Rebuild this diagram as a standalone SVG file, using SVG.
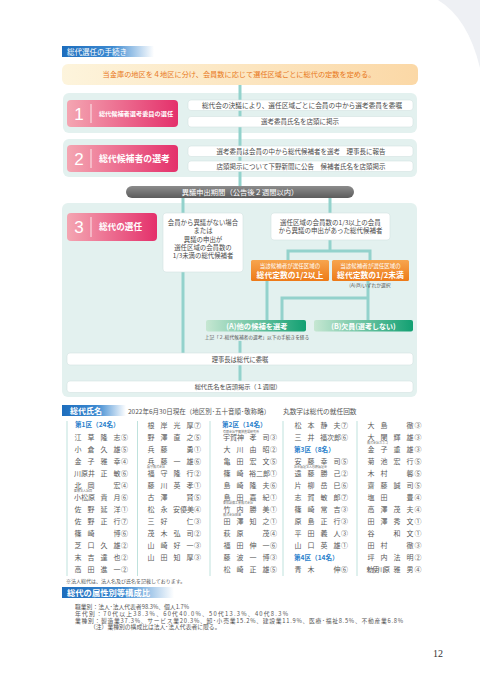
<svg xmlns="http://www.w3.org/2000/svg" width="480" height="679" viewBox="0 0 480 679">
<defs>
<linearGradient id="gBlue" x1="0" x2="1" y1="0" y2="0"><stop offset="0" stop-color="#1d6dbd"/><stop offset="0.55" stop-color="#3d8ad1"/><stop offset="1" stop-color="#ffffff"/></linearGradient>
<linearGradient id="gBanner" x1="0" x2="1" y1="0" y2="0"><stop offset="0" stop-color="#fdf4dc"/><stop offset="1" stop-color="#fbd8a6"/></linearGradient>
<linearGradient id="gPink" x1="0" x2="1" y1="0" y2="0"><stop offset="0" stop-color="#f4a6b2"/><stop offset="1" stop-color="#e4306b"/></linearGradient>
<linearGradient id="gGrey" x1="0" x2="0" y1="0" y2="1"><stop offset="0" stop-color="#8c8c8c"/><stop offset="1" stop-color="#5c5c5c"/></linearGradient>
<linearGradient id="gOrange" x1="0" x2="0" y1="0" y2="1"><stop offset="0" stop-color="#f7a54e"/><stop offset="1" stop-color="#ed7a18"/></linearGradient>
<linearGradient id="gGreen" x1="0" x2="1" y1="0" y2="0"><stop offset="0" stop-color="#c6e7d2"/><stop offset="1" stop-color="#12a072"/></linearGradient>
<style>
text{font-family:"Noto Sans CJK JP","Noto Sans",sans-serif}
.panel{fill:#e3f1ef}
.wb{fill:#ffffff;stroke:#d3e3e0;stroke-width:0.6}
.t{fill:#4a4a4a;font-size:6.5px;text-anchor:middle}
.w{fill:#ffffff;text-anchor:middle;font-weight:bold}
.num{fill:#ffffff;font-size:17px;text-anchor:middle;font-family:"Liberation Sans",sans-serif}
.div{stroke:#ffffff;stroke-width:0.8}
.con{stroke:#93d2cc;stroke-width:3;fill:none}
.n{fill:#5a5a5a;font-size:7px;text-anchor:middle}
.lb{fill:#6a6a6a;font-size:3px}
.ku{fill:#2b7fcc;font-size:6.6px;font-weight:bold}
.cd{stroke:#bfe2dd;stroke-width:1}
.hd{fill:#ffffff;font-weight:bold}
.at{fill:#555555;font-size:5.8px}
</style>
</defs>
<rect x="0" y="0" width="480" height="679" fill="#ffffff"/>
<path d="M438 0 Q468 18 480 68 L480 0 Z" fill="#eef0f4"/>

<g id="title-procedure">
<rect x="62" y="46" width="92" height="11" fill="url(#gBlue)"/>
<text x="67" y="54.5" class="hd" style="font-size:7.5px;font-weight:normal">総代選任の手続き</text>
</g>

<g id="banner">
<rect x="62" y="64" width="356" height="21" rx="6" fill="url(#gBanner)"/>
<text x="239" y="77" style="fill:#e8771a;font-size:7.2px;text-anchor:middle">当金庫の地区を４地区に分け、会員数に応じて選任区域ごとに総代の定数を定める。</text>
</g>

<g id="panels">
<rect x="63" y="93" width="354" height="40" rx="6" class="panel"/>
<rect x="63" y="139" width="354" height="38" rx="6" class="panel"/>
<rect x="62" y="203" width="355" height="194" rx="6" class="panel"/>
</g>

<g id="connectors">
<line x1="240" y1="85" x2="240" y2="186" class="con"/>
<line x1="183" y1="198" x2="183" y2="213" class="con"/>
<line x1="330" y1="198" x2="330" y2="213" class="con"/>
<line x1="183" y1="272" x2="183" y2="353" class="con"/>
<polyline points="330,240 330,251" class="con"/>
<polyline points="288,260 288,251 370,251 370,260" class="con"/>
<line x1="267" y1="281" x2="267" y2="320" class="con"/>
<line x1="368" y1="281" x2="368" y2="320" class="con"/>
<polyline points="368,298 282,298 282,320" class="con"/>
<line x1="240" y1="341" x2="240" y2="382" class="con"/>
</g>

<g id="step1">
<rect x="67" y="100" width="111" height="27" rx="4" fill="url(#gPink)"/>
<text x="79" y="120" class="num">1</text>
<line x1="91" y1="104" x2="91" y2="123" class="div"/>
<text x="136" y="116" class="w" style="font-size:6.2px">総代候補者選考委員の選任</text>
</g>
<g id="step1-a">
<rect x="188" y="100" width="225" height="10.5" rx="3" class="wb"/>
<text x="302" y="107.5" class="t" style="font-size:6.7px">総代会の決議により、選任区域ごとに会員の中から選考委員を委嘱</text>
</g>
<g id="step1-b">
<rect x="188" y="116.5" width="225" height="10.5" rx="3" class="wb"/>
<text x="300" y="124" class="t">選考委員氏名を店頭に掲示</text>
</g>

<g id="step2">
<rect x="67" y="145" width="111" height="27" rx="4" fill="url(#gPink)"/>
<text x="79" y="165" class="num">2</text>
<line x1="91" y1="149" x2="91" y2="168" class="div"/>
<text x="134.5" y="161.5" class="w" style="font-size:8.9px">総代候補者の選考</text>
</g>
<g id="step2-a">
<rect x="188" y="146" width="225" height="10.5" rx="3" class="wb"/>
<text x="301" y="153.5" class="t">選考委員は会員の中から総代候補者を選考　理事長に報告</text>
</g>
<g id="step2-b">
<rect x="188" y="161" width="225" height="10.5" rx="3" class="wb"/>
<text x="301" y="168.5" class="t">店頭掲示について下野新聞に公告　候補者氏名を店頭掲示</text>
</g>

<g id="objection-period">
<rect x="126" y="186" width="228" height="12" rx="6" fill="url(#gGrey)"/>
<text x="240" y="194.5" style="fill:#ffffff;font-size:7.3px;text-anchor:middle">異議申出期間（公告後２週間以内）</text>
</g>

<g id="step3">
<rect x="67" y="213" width="90" height="28" rx="4" fill="url(#gPink)"/>
<text x="79" y="233" class="num">3</text>
<line x1="91" y1="217" x2="91" y2="237" class="div"/>
<text x="120.5" y="230" class="w" style="font-size:8.6px">総代の選任</text>
</g>

<g id="case-no-objection">
<rect x="163" y="213" width="80" height="59" rx="3" class="wb"/>
<text class="t" style="font-size:6.4px" x="203" y="225">会員から異議がない場合</text>
<text class="t" style="font-size:6.4px" x="203" y="233.3">または</text>
<text class="t" style="font-size:6.4px" x="203" y="241.6">異議の申出が</text>
<text class="t" style="font-size:6.4px" x="203" y="250">選任区域の会員数の</text>
<text class="t" style="font-size:6.4px" x="203" y="258.3">1/3未満の総代候補者</text>
</g>

<g id="case-objection">
<rect x="271" y="213" width="119" height="27" rx="3" class="wb"/>
<text class="t" style="font-size:6.5px" x="330.5" y="225">選任区域の会員数の1/3以上の会員</text>
<text class="t" style="font-size:6.5px" x="330.5" y="233.3">から異議の申出があった総代候補者</text>
</g>

<g id="half-or-more">
<rect x="251" y="260" width="78" height="21" rx="1.5" fill="url(#gOrange)"/>
<text x="290" y="267.5" style="fill:#ffffff;font-size:5.5px;text-anchor:middle">当該候補者が選任区域の</text>
<text x="290" y="277.5" class="w" style="font-size:7.8px">総代定数の1/2以上</text>
</g>
<g id="less-than-half">
<rect x="332" y="260" width="77" height="21" rx="1.5" fill="url(#gOrange)"/>
<text x="370.5" y="267.5" style="fill:#ffffff;font-size:5.5px;text-anchor:middle">当該候補者が選任区域の</text>
<text x="370.5" y="277.5" class="w" style="font-size:7.8px">総代定数の1/2未満</text>
</g>
<text x="370" y="287" style="fill:#555555;font-size:4.8px;text-anchor:middle">(A)(B)いずれか選択</text>

<g id="option-a">
<rect x="206" y="320" width="100" height="11.5" rx="2" fill="url(#gGreen)"/>
<text x="257" y="328.5" class="w" style="font-size:7.3px">(A)他の候補を選考</text>
</g>
<text x="257" y="339" style="fill:#555555;font-size:4.7px;text-anchor:middle">上記「２.総代候補者の選考」以下の手続きを経る</text>
<g id="option-b">
<rect x="314" y="320" width="99" height="11.5" rx="2" fill="url(#gGreen)"/>
<text x="363.5" y="328.5" class="w" style="font-size:7px">(B)欠員(選考しない)</text>
</g>

<g id="commission">
<rect x="67" y="353" width="346" height="12" rx="3" class="wb"/>
<text x="240" y="361.5" class="t" style="font-size:6.3px">理事長は総代に委嘱</text>
</g>
<g id="post-names">
<rect x="67" y="381" width="346" height="11.5" rx="3" class="wb"/>
<text x="238" y="389.3" class="t" style="font-size:6.2px">総代氏名を店頭掲示（１週間）</text>
</g>

<g id="title-names">
<rect x="62" y="405" width="64" height="11" fill="url(#gBlue)"/>
<text x="70" y="414" class="hd" style="font-size:8px">総代氏名</text>
<text x="128" y="413.5" style="fill:#555555;font-size:6.5px">2022年6月30日現在（地区別･五十音順･敬称略）</text>
<text x="283" y="413.5" style="fill:#555555;font-size:6.7px">丸数字は総代の就任回数</text>
</g>

<g id="name-list">
<line x1="67" y1="421" x2="67" y2="576" class="cd"/>
<line x1="137.5" y1="421" x2="137.5" y2="576" class="cd"/>
<line x1="210" y1="421" x2="210" y2="576" class="cd"/>
<line x1="283" y1="421" x2="283" y2="576" class="cd"/>
<line x1="357" y1="421" x2="357" y2="576" class="cd"/>

<text x="75" y="427" class="ku">第1区（24名）</text>
<text class="n" x="78 91 104 117 124.5" y="439.5">江草隆志⑤</text>
<text class="n" x="78 91 104 117 124.5" y="451.5">小倉久雄⑤</text>
<text class="n" x="78 91 104 117 124.5" y="463.5">金子雅幸④</text>
<text class="n" x="77.5 84.5 91.5 104 117 124.5" y="475.5">川原井正敏⑥</text>
<text class="n" x="78 91 117 124.5" y="487.5">北岡宏④</text>
<text class="lb" x="74" y="491.6">医療法人社団</text>
<text class="n" x="77.5 84.5 91.5 104 117 124.5" y="499.5">小松原貴月⑥</text>
<text class="n" x="78 91 104 117 124.5" y="511.5">佐野延洋①</text>
<text class="n" x="78 91 104 117 124.5" y="523.5">佐野正行⑦</text>
<text class="n" x="78 91 117 124.5" y="535.5">篠崎博⑥</text>
<text class="n" x="78 91 104 117 124.5" y="547.5">芝口久雄②</text>
<text class="n" x="78 91 104 117 124.5" y="559.5">末吉達也②</text>
<text class="n" x="78 91 104 117 124.5" y="571.5">高田進一②</text>

<text class="n" x="151 164 177 190 197.5" y="427.5">根岸光厚⑦</text>
<text class="n" x="151 164 177 190 197.5" y="439.5">野澤直之⑤</text>
<text class="n" x="151 164 190 197.5" y="451.5">兵藤勇①</text>
<text class="n" x="151 164 177 190 197.5" y="463.5">兵藤一雄⑥</text>
<text class="lb" x="147" y="467.6">福守株式会社</text>
<text class="n" x="151 164 177 190 197.5" y="475.5">福守隆行②</text>
<text class="n" x="151 164 177 190 197.5" y="487.5">藤川英孝①</text>
<text class="n" x="151 164 190 197.5" y="499.5">古澤賢⑤</text>
<text class="n" x="151 164 176.5 183.5 190.5 197.5" y="511.5">松永安優美④</text>
<text class="n" x="151 164 190 197.5" y="523.5">三好仁③</text>
<text class="n" x="151 164 177 190 197.5" y="535.5">茂木弘司②</text>
<text class="n" x="151 164 177 190 197.5" y="547.5">山崎好一③</text>
<text class="n" x="151 164 177 190 197.5" y="559.5">山田知厚③</text>

<text x="222" y="427" class="ku">第2区（14名）</text>
<text class="lb" x="223" y="432.6">有限会社宇賀神農場研究所</text>
<text class="n" x="226.5 233.5 240.5 253 266 273.5" y="439.5">宇賀神孝司③</text>
<text class="n" x="227 240 253 266 273.5" y="451.5">大川由昭②</text>
<text class="n" x="227 240 253 266 273.5" y="463.5">亀田宏文⑤</text>
<text class="n" x="227 240 252.5 259.5 266.5 273.5" y="475.5">篠崎裕二郎①</text>
<text class="n" x="227 240 253 266 273.5" y="487.5">島崎隆夫⑥</text>
<text class="n" x="227 240 253 266 273.5" y="499.5">島田嘉紀①</text>
<text class="lb" x="223" y="503.6">東和設備工業株式会社</text>
<text class="n" x="227 240 253 266 273.5" y="511.5">竹内勝美①</text>
<text class="lb" x="223" y="515.6">株式会社田澤</text>
<text class="n" x="227 240 253 266 273.5" y="523.5">田澤知之①</text>
<text class="n" x="227 240 266 273.5" y="535.5">萩原茂④</text>
<text class="n" x="227 240 253 266 273.5" y="547.5">福田伸一⑥</text>
<text class="n" x="227 240 253 266 273.5" y="559.5">藤波一博③</text>
<text class="n" x="227 240 253 266 273.5" y="571.5">松崎正雄⑤</text>

<text class="n" x="298 311 324 337 344.5" y="427.5">松本静夫⑦</text>
<text class="n" x="298 311 323.5 330.5 337.5 344.5" y="439.5">三井福次郎⑥</text>
<text x="294" y="451.5" class="ku">第3区（8名）</text>
<text class="n" x="298 311 324 337 344.5" y="463.5">安藤幸司⑤</text>
<text class="lb" x="294" y="467.6">社会福祉法人杉野福祉会</text>
<text class="n" x="298 311 324 337 344.5" y="475.5">遠藤勝己②</text>
<text class="n" x="298 311 324 337 344.5" y="487.5">片柳岳巳⑥</text>
<text class="n" x="298 311 324 337 344.5" y="499.5">志賀敏郎⑦</text>
<text class="n" x="298 311 324 337 344.5" y="511.5">篠崎常吉③</text>
<text class="n" x="298 311 324 337 344.5" y="523.5">原島正行③</text>
<text class="n" x="298 311 324 337 344.5" y="535.5">平田義人③</text>
<text class="n" x="298 311 324 337 344.5" y="547.5">山口英雄①</text>
<text x="294" y="559.5" class="ku">第4区（14名）</text>
<text class="n" x="298 311 337 344.5" y="571.5">青木伸⑥</text>

<text class="n" x="371 384 410 418" y="427.5">大島徹③</text>
<text class="n" x="371 384 397 410 418" y="439.5">大関輝雄③</text>
<text class="lb" x="367" y="443.6">株式会社カネコ</text>
<text class="n" x="371 384 397 410 418" y="451.5">金子重雄③</text>
<text class="n" x="371 384 397 410 418" y="463.5">菊池宏行⑤</text>
<text class="n" x="371 384 410 418" y="475.5">木村馨⑤</text>
<text class="n" x="371 384 397 410 418" y="487.5">齋藤誠司⑤</text>
<text class="n" x="371 384 410 418" y="499.5">塩田豊④</text>
<text class="n" x="371 384 397 410 418" y="511.5">高澤茂夫④</text>
<text class="n" x="371 384 397 410 418" y="523.5">田澤秀文①</text>
<text class="n" x="371 397 410 418" y="535.5">谷和文①</text>
<text class="n" x="371 384 410 418" y="547.5">田村徹③</text>
<text class="n" x="371 384 397 410 418" y="559.5">坪内法明②</text>
<text class="n" x="370 375.5 381 386.5 397 410 418" y="571.5">勅使川原雅男④</text>
</g>
<text x="66" y="582.5" style="fill:#555555;font-size:5px">※法人総代は、法人名及び氏名を記載しております。</text>

<g id="title-attributes">
<rect x="62" y="587" width="112" height="11" fill="url(#gBlue)"/>
<text x="67" y="596" class="hd" style="font-size:8.3px">総代の属性別等構成比</text>
</g>
<g id="attributes">
<text x="75" y="609" class="at">職業別：法人･法人代表者98.3%、個人1.7%</text>
<text x="75" y="615.8" class="at" textLength="213" lengthAdjust="spacing">年代別：70代以上38.3%、60代40.0%、50代13.3%、40代8.3%</text>
<text x="75" y="622.6" class="at" textLength="328" lengthAdjust="spacing">業種別：製造業37.3%、サービス業20.3%、卸･小売業15.2%、建設業11.9%、医療･福祉8.5%、不動産業6.8%</text>
<text x="90" y="629.4" class="at">（注）業種別の構成比は法人･法人代表者に限る。</text>
</g>
<text x="433" y="657" style="fill:#333333;font-size:10px;font-family:'Liberation Serif',serif">12</text>
</svg>
